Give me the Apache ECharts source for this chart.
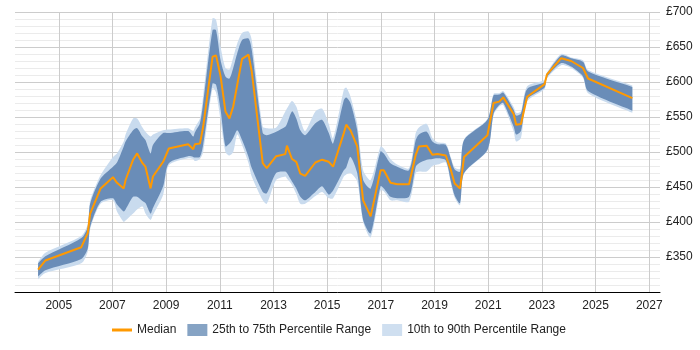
<!DOCTYPE html>
<html>
<head>
<meta charset="utf-8">
<script src="https://cdn.jsdelivr.net/npm/echarts@6/dist/echarts.min.js"></script>
<style>
  html, body { margin: 0; padding: 0; background: #fff; }
  #chart { width: 700px; height: 350px; }
</style>
</head>
<body>
<div id="chart"></div>
<script>
// time points (decimal years)
var years = [2004.23, 2004.50, 2005.84, 2006.08, 2006.17, 2006.56, 2007.02, 2007.17, 2007.42, 2007.49,
  2007.77, 2007.92, 2008.12, 2008.23, 2008.42, 2008.51, 2008.89, 2009.10, 2009.82, 2010.01,
  2010.07, 2010.26, 2010.38, 2010.73, 2010.86, 2011.03, 2011.21, 2011.36, 2011.50, 2011.65,
  2011.83, 2012.07, 2012.19, 2012.60, 2012.75, 2013.10, 2013.44, 2013.50, 2013.69, 2013.85,
  2014.00, 2014.18, 2014.56, 2014.81, 2015.06, 2015.22, 2015.62, 2015.71, 2015.87, 2016.12,
  2016.34, 2016.62, 2016.99, 2017.11, 2017.36, 2017.61, 2018.05, 2018.30, 2018.42, 2018.71,
  2018.92, 2019.11, 2019.42, 2019.61, 2019.75, 2019.95, 2020.10, 2020.97, 2021.20, 2021.41,
  2021.56, 2021.95, 2022.04, 2022.22, 2022.45, 2023.10, 2023.19, 2023.72, 2024.09, 2024.53,
  2024.72, 2026.37];

var p10 = [318, 327, 341, 358, 390, 426, 431, 415, 400, 402,
  412, 418, 422, 412, 403, 410, 439, 481, 491, 490,
  487, 490, 500, 591, 585, 545, 500, 495, 500, 525,
  510, 484, 465, 431, 426, 460, 465, 462, 453, 440,
  426, 426, 437, 443, 434, 434, 465, 468, 470, 458,
  400, 378, 445, 444, 431, 431, 429, 470, 472, 472,
  480, 482, 485, 455, 435, 424, 469, 502, 553, 565,
  567, 529, 515, 520, 572, 590, 605, 624, 620, 606,
  584, 556];

var p25 = [322, 331, 347, 362, 393, 429, 434, 425, 415, 418,
  436, 436, 430, 427, 412, 420, 451, 484, 494, 493,
  492, 493, 510, 598, 596, 560, 508, 512, 520, 531,
  517, 493, 477, 443, 441, 470, 472, 470, 458, 448,
  436, 431, 443, 451, 439, 445, 474, 478, 493, 470,
  403, 384, 451, 448, 436, 434, 436, 479, 484, 489,
  490, 491, 488, 458, 438, 427, 470, 503, 555, 567,
  570, 536, 525, 530, 575, 592, 607, 627, 622, 608,
  587, 559];

var median = [332, 345, 364, 384, 412, 448, 464, 456, 448, 460,
  489, 498, 484, 479, 448, 465, 486, 505, 511, 504,
  511, 512, 536, 636, 638, 608, 558, 548, 565, 596,
  633, 639, 615, 484, 477, 494, 497, 509, 490, 486,
  469, 466, 485, 489, 486, 479, 527, 539, 531, 508,
  431, 408, 474, 474, 456, 454, 454, 496, 508, 509,
  496, 497, 495, 474, 455, 448, 493, 524, 570, 572,
  578, 554, 539, 540, 579, 597, 611, 634, 630, 620,
  605, 577];

var p75 = [341, 351, 377, 393, 426, 462, 479, 485, 508, 515,
  531, 534, 522, 517, 498, 510, 527, 527, 530, 522,
  528, 541, 570, 674, 674, 631, 608, 605, 620, 641,
  660, 662, 646, 527, 524, 529, 536, 540, 558, 548,
  531, 524, 541, 546, 527, 512, 574, 578, 570, 531,
  460, 448, 501, 498, 484, 479, 474, 517, 525, 529,
  515, 511, 510, 490, 475, 472, 517, 546, 581, 582,
  585, 560, 552, 555, 590, 600, 612, 638, 634, 629,
  615, 593];

var p90 = [343, 356, 380, 397, 430, 467, 493, 498, 515, 525,
  548, 548, 535, 529, 522, 525, 531, 532, 534, 530,
  535, 548, 580, 691, 689, 650, 620, 618, 635, 655,
  670, 672, 660, 536, 534, 535, 558, 562, 573, 565,
  546, 530, 558, 562, 540, 520, 589, 592, 579, 540,
  474, 460, 508, 505, 490, 482, 477, 527, 535, 540,
  520, 514, 512, 492, 478, 476, 518, 547, 583, 584,
  587, 564, 556, 558, 594, 603, 614, 640, 635, 631,
  617, 595];

var yearTicks = [2005, 2007, 2009, 2011, 2013, 2015, 2017, 2019, 2021, 2023, 2025, 2027];

var darkBand = '#6a8db8';
var lightBand = '#c9dbee';
var font = 'Liberation Sans, Arial, sans-serif';

// one closed shape per band: upper edge left to right, lower edge back.
// end points are doubled so the smoothing keeps square ends
function bandSeries(name, lo, hi, color, z) {
  return {
    name: name,
    type: 'custom',
    z: z,
    itemStyle: { color: color },
    data: years.map(function (y, i) { return [y, lo[i], hi[i]]; }),
    encode: { x: 0, y: [1, 2] },
    renderItem: function (params, api) {
      if (params.dataIndex !== 0) return null;
      var top = [], bottom = [];
      for (var i = 0; i < years.length; i++) {
        top.push(api.coord([years[i], hi[i]]));
        bottom.push(api.coord([years[i], lo[i]]));
      }
      var last = years.length - 1;
      top.unshift(top[0].slice());
      top.push(top[last + 1].slice());
      bottom.unshift(bottom[0].slice());
      bottom.push(bottom[last + 1].slice());
      return {
        type: 'group',
        children: [{
          type: 'polygon',
          shape: { points: top.concat(bottom.reverse()), smooth: 0.25 },
          style: { fill: color }
        }]
      };
    }
  };
}

var chart = echarts.init(document.getElementById('chart'));
chart.setOption({
  animation: false,
  textStyle: { fontFamily: font },
  grid: { left: 15, right: 40, top: 12, bottom: 58 },
  legend: {
    left: 107,
    bottom: 9,
    itemWidth: 20,
    itemHeight: 12,
    itemGap: 11,
    textStyle: { fontSize: 12, color: '#222', fontFamily: font },
    data: [
      { name: 'Median', icon: 'path://M0,0 L20,0 L20,3 L0,3 Z' },
      { name: '25th to 75th Percentile Range', icon: 'rect', itemStyle: { color: '#86a3c4' } },
      { name: '10th to 90th Percentile Range', icon: 'rect', itemStyle: { color: '#cfdff0' } }
    ]
  },
  xAxis: {
    type: 'value',
    min: 2003.37,
    max: 2027.4,
    axisLine: { show: true, lineStyle: { color: '#000', width: 1 } },
    axisTick: { show: false, customValues: yearTicks },
    axisLabel: { customValues: yearTicks, color: '#222', fontSize: 12, margin: 8,
      formatter: function (v) { return String(v); } },
    splitLine: { show: true, lineStyle: { color: '#ccc' } }
  },
  yAxis: {
    type: 'value',
    position: 'right',
    min: 300,
    max: 700,
    interval: 50,
    axisLine: { show: false },
    axisTick: { show: false },
    axisLabel: { color: '#222', fontSize: 12, margin: 6,
      formatter: function (v) { return v === 300 ? '' : '£' + v; } },
    splitLine: { show: true, lineStyle: { color: '#ccc' } },
    minorTick: { show: false, splitNumber: 5 },
    minorSplitLine: { show: true, lineStyle: { color: '#ebebeb' } }
  },
  series: [
    bandSeries('10th to 90th Percentile Range', p10, p90, lightBand, 2),
    bandSeries('25th to 75th Percentile Range', p25, p75, darkBand, 3),
    {
      name: 'Median', type: 'line', data: years.map(function (y, i) { return [y, median[i]]; }),
      symbol: 'none', itemStyle: { color: '#ff9900' },
      lineStyle: { color: '#ff9900', width: 2 }, z: 5
    }
  ]
});
</script>
</body>
</html>
